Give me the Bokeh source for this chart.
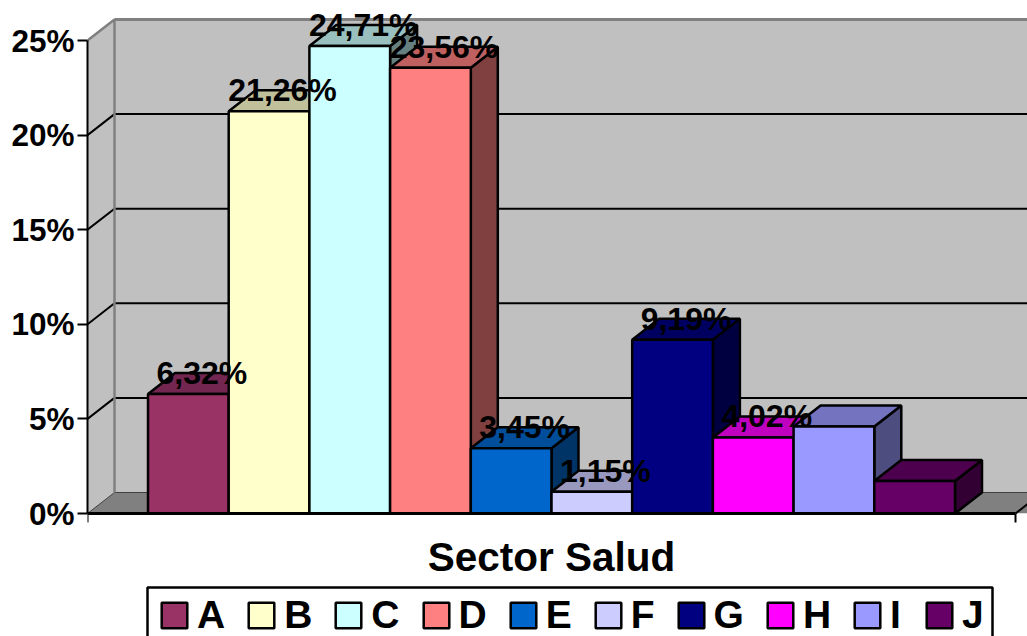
from bokeh.embed import file_html
from bokeh.resources import INLINE
from bokeh.plotting import figure
from bokeh.models import Range1d, FixedTicker, Legend, LegendItem, LinearAxis, Label
from bokeh.core.properties import value

categories = ["A", "B", "C", "D", "E", "F", "G", "H", "I", "J"]
values = [6.32, 21.26, 24.71, 23.56, 3.45, 1.15, 9.19, 4.02, 4.60, 1.72]
labels = ["6,32%", "21,26%", "24,71%", "23,56%", "3,45%", "1,15%", "9,19%", "4,02%", "", ""]
front = ["#993366", "#FFFFCC", "#CCFFFF", "#FF8080", "#0066CC", "#CCCCFF", "#000080", "#FF00FF", "#9999FF", "#660066"]
top = ["#732650", "#C0C09A", "#99BFBF", "#BF6060", "#004D99", "#9999BF", "#000060", "#BF00BF", "#7373BF", "#4D004D"]
side = ["#4D1A33", "#808066", "#668080", "#804040", "#003366", "#666680", "#000040", "#800080", "#4D4D80", "#330033"]
y_ticks = [0, 5, 10, 15, 20, 25]
title_text = "Sector Salud"

FONT = "Liberation Sans"
PX_X = 80.7    # pixels per bar
PX_Y = 18.92   # pixels per percent
LEFT = 147.5   # pixel of the first bar's left edge
DX = 27 / PX_X # depth of the 3D box, in data units
DY = 21 / PX_Y
GAP = 60.5 / PX_X
X0 = -GAP
X1 = len(categories) + GAP
XR = (1027 - LEFT) / PX_X
YT = 513 / PX_Y
YB = -(636 - 513) / PX_Y
YMAX = 25

p = figure(width=1027, height=636, output_backend="svg", toolbar_location=None,
           x_range=Range1d(X0, XR), y_range=Range1d(YB, YT),
           x_axis_type=None, y_axis_type=None,
           min_border_left=87, min_border_right=0, min_border_top=0, min_border_bottom=0)
p.outline_line_color = None
p.background_fill_color = "white"
p.border_fill_color = "white"

# Walls and floor of the 3D box
p.patch([X0 + DX, XR + 1, XR + 1, X0 + DX], [DY, DY, YMAX + DY, YMAX + DY],
        fill_color="#C0C0C0", line_color=None)
p.patch([X0, X0 + DX, X0 + DX, X0], [0, DY, YMAX + DY, YMAX],
        fill_color="#C0C0C0", line_color=None)
p.patch([X0, X0 + DX, XR + 1 + DX, XR + 1], [0, DY, DY, 0],
        fill_color="#808080", line_color=None)
p.line([X0, X0 + DX, XR + 1], [0, DY, DY], line_color="#404040", line_width=1)

grid = [t for t in y_ticks if 0 < t < YMAX]
p.segment([X0] * len(grid), grid, [X0 + DX] * len(grid), [t + DY for t in grid],
          line_color="black", line_width=2)
p.segment([X0 + DX] * len(grid), [t + DY for t in grid], [XR + 1] * len(grid), [t + DY for t in grid],
          line_color="black", line_width=2)
p.line([X0, X0 + DX, X0 + DX], [YMAX, YMAX + DY, 0 + DY], line_color="#808080", line_width=2.5)
p.line([X0 + DX, XR + 1], [YMAX + DY, YMAX + DY], line_color="#808080", line_width=3)
# White below the front edge, past the end of the axis
p.patch([X1, XR + 1, XR + 1, X1], [0, 0, -1, -1], fill_color="white", line_color=None)
p.line([X1, X1 + DX], [0, DY], line_color="black", line_width=2)

# Bars, painted left to right
items = []
for i, (cat, v) in enumerate(zip(categories, values)):
    p.patch([i + 1, i + 1 + DX, i + 1 + DX, i + 1], [0, DY, v + DY, v],
            fill_color=side[i], line_color="black", line_width=2.5)
    p.patch([i, i + DX, i + 1 + DX, i + 1], [v, v + DY, v + DY, v],
            fill_color=top[i], line_color="black", line_width=2.5)
    r = p.vbar(x=[i + 0.5], top=[v], bottom=0, width=1,
               fill_color=front[i], line_color="black", line_width=2.5)
    items.append(LegendItem(label=cat, renderers=[r]))

# Data labels
xs = [i + 0.5 + DX / 2 for i, t in enumerate(labels) if t]
ys = [v + DY for v, t in zip(values, labels) if t]
p.text(xs, ys, text=[t for t in labels if t], text_font=value(FONT), text_font_style="bold",
       text_font_size="32px", text_color="black", text_align="center", text_baseline="middle")

# Axes
yax = LinearAxis(ticker=FixedTicker(ticks=y_ticks), bounds=(0, YMAX))
yax.major_label_overrides = {t: f"{t}%" for t in y_ticks}
yax.major_label_text_font = FONT
yax.major_label_text_font_style = "bold"
yax.major_label_text_font_size = "31.5px"
yax.major_label_text_color = "black"
yax.major_tick_in = 0
yax.major_tick_out = 10
yax.major_tick_line_width = 2
yax.major_tick_line_color = "black"
yax.minor_tick_line_color = None
yax.axis_line_width = 2
yax.axis_line_color = "black"
yax.major_label_standoff = 3
p.add_layout(yax, "left")

# Baseline and its two end ticks, drawn in the plot's own scales
p.line([X0, X1], [0, 0], line_color="black", line_width=3)
tick = 9 / PX_Y
p.segment([X0, X1], [0, 0], [X0, X1], [-tick, -tick], line_color="black", line_width=2)

p.add_layout(Label(x=(X0 + X1) / 2, y=(513 - 556) / PX_Y, text=title_text, text_font=FONT,
                   text_font_style="bold", text_font_size="40.5px", text_color="black",
                   text_align="center", text_baseline="middle"))

# Legend frame (open at the bottom of the page, as in the reference)
bx0, bx1 = (147 - LEFT) / PX_X, (992 - LEFT) / PX_X
by0, by1 = (513 - 587) / PX_Y, YB - 2
p.line([bx0, bx0, bx1, bx1], [by1, by0, by0, by1], line_color="black", line_width=2.5)

legend_style = dict(orientation="horizontal",
                    label_text_font=FONT, label_text_font_style="bold", label_text_font_size="39px",
                    label_text_color="black", glyph_width=32, glyph_height=32, label_standoff=7,
                    label_height=28, spacing=20, padding=0, margin=0,
                    border_line_color=None, background_fill_alpha=0)
p.add_layout(Legend(items=items[:-1], location=(71, -1), **legend_style), "center")
p.add_layout(Legend(items=items[-1:], location=(836, -1), **legend_style), "center")

open("out.html", "w").write(file_html(p, INLINE))
